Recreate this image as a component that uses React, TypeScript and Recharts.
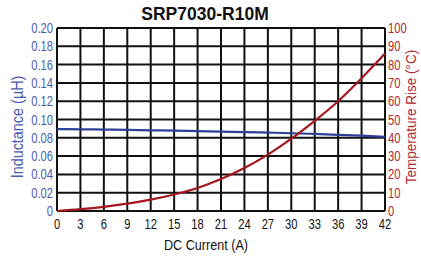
import React from 'react';
import { LineChart, Line, XAxis, YAxis, CartesianGrid } from 'recharts';

const current = [0, 3, 6, 9, 12, 15, 18, 21, 24, 27, 30, 33, 36, 39, 42];
const inductance = [0.0895, 0.0893, 0.089, 0.0886, 0.0882, 0.0878, 0.0873, 0.0868, 0.0863, 0.0857, 0.085, 0.0842, 0.0833, 0.0823, 0.081];
const tempRise = [0, 1, 2.3, 4, 6.2, 9, 12.6, 17.5, 23.5, 30.8, 39.5, 49.3, 60, 72.5, 86];
const xTicks = [0, 3, 6, 9, 12, 15, 18, 21, 24, 27, 30, 33, 36, 39, 42];
const leftTicks = [0, 0.02, 0.04, 0.06, 0.08, 0.1, 0.12, 0.14, 0.16, 0.18, 0.2];
const rightTicks = [0, 10, 20, 30, 40, 50, 60, 70, 80, 90, 100];

const data = current.map((c, i) => ({ x: c, L: inductance[i], T: tempRise[i] }));

const FONT = '"Liberation Sans", Arial, sans-serif';
const BLUE = '#4a5cb0';
const RED = '#b0282c';
const SX = 0.8;

const XTick = (props: any) => {
  const { x, y, payload } = props;
  return (
    <g transform={`translate(${x},${y})`}>
      <text transform={`scale(${SX},1)`} x={0} y={18} textAnchor="middle" fontSize={14} fontFamily={FONT} fill="#111">
        {String(payload.value)}
      </text>
    </g>
  );
};

const LTick = (props: any) => {
  const { x, y, payload } = props;
  const v = payload.value as number;
  const s = v === 0 ? '0' : v.toFixed(2);
  return (
    <g transform={`translate(${x},${y})`}>
      <text transform={`scale(${SX},1)`} x={0} y={5} textAnchor="end" fontSize={14} fontFamily={FONT} fill={BLUE}>
        {s}
      </text>
    </g>
  );
};

const RTick = (props: any) => {
  const { x, y, payload } = props;
  return (
    <g transform={`translate(${x},${y})`}>
      <text transform={`scale(${SX},1)`} x={0} y={5} textAnchor="start" fontSize={14} fontFamily={FONT} fill={RED}>
        {String(payload.value)}
      </text>
    </g>
  );
};

export default function App() {
  return (
    <div style={{ position: 'absolute', left: 0, top: 0, width: 421, height: 257, background: '#fff', overflow: 'hidden' }}>
      <LineChart width={421} height={257} data={data} margin={{ top: 28, right: 0, left: 0, bottom: 16 }}>
        <CartesianGrid yAxisId="L" stroke="#111" strokeWidth={2} fill="none" />
        <XAxis
          dataKey="x"
          type="number"
          domain={[0, 42]}
          ticks={xTicks}
          tickLine={false}
          tickSize={0}
          axisLine={false}
          height={30}
          tick={<XTick />}
          tickMargin={0}
          interval={0}
        />
        <YAxis
          yAxisId="L"
          domain={[0, 0.2]}
          ticks={leftTicks}
          width={57}
          tickLine={false}
          tickSize={0}
          axisLine={false}
          interval={0}
          tick={<LTick />}
          tickMargin={4}
        />
        <YAxis
          yAxisId="T"
          orientation="right"
          domain={[0, 100]}
          ticks={rightTicks}
          width={36}
          tickLine={false}
          tickSize={0}
          axisLine={false}
          interval={0}
          tick={<RTick />}
          tickMargin={3}
        />
        <Line yAxisId="L" dataKey="L" type="monotone" stroke="#2e3f96" strokeWidth={2.2} dot={false} isAnimationActive={false} />
        <Line yAxisId="T" dataKey="T" type="monotone" stroke="#a3161c" strokeWidth={2.2} dot={false} isAnimationActive={false} />
      </LineChart>
      <div style={{ position: 'absolute', left: 0, width: 410, top: 4, textAlign: 'center', fontFamily: FONT, fontWeight: 'bold', fontSize: 17.5, lineHeight: '20px', color: '#111' }}>
        SRP7030-R10M
      </div>
      <div style={{ position: 'absolute', left: 206, top: 245, width: 0, height: 0 }}>
        <div style={{ position: 'absolute', transform: 'translate(-50%, -50%) scaleX(0.84)', whiteSpace: 'nowrap', fontFamily: FONT, fontSize: 15, lineHeight: '18px', color: '#111' }}>
          DC Current (A)
        </div>
      </div>
      <div style={{ position: 'absolute', left: 18, top: 127, width: 0, height: 0 }}>
        <div style={{ position: 'absolute', transform: 'translate(-50%, -50%) rotate(-90deg) scaleX(0.9)', whiteSpace: 'nowrap', fontFamily: FONT, fontSize: 16, lineHeight: '18px', color: BLUE }}>
          Inductance (µH)
        </div>
      </div>
      <div style={{ position: 'absolute', left: 411, top: 117, width: 0, height: 0 }}>
        <div style={{ position: 'absolute', transform: 'translate(-50%, -50%) rotate(-90deg) scaleX(0.9)', whiteSpace: 'nowrap', fontFamily: FONT, fontSize: 15, lineHeight: '16px', color: RED }}>
          Temperature Rise (°C)
        </div>
      </div>
    </div>
  );
}
